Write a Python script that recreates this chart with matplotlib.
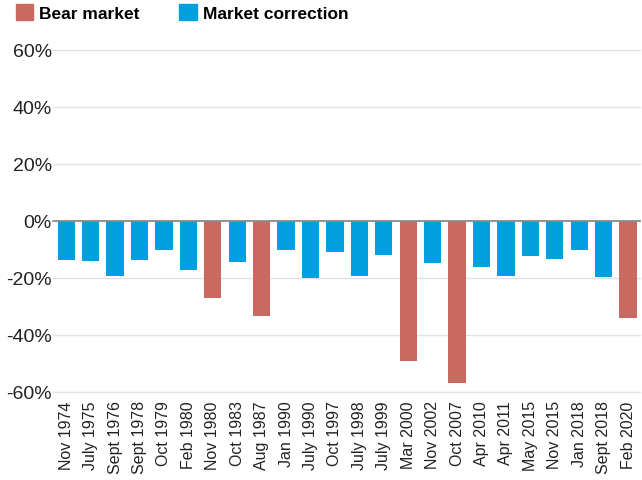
import numpy as np
import matplotlib.pyplot as plt
from matplotlib.patches import Patch

# data
dates = ["Nov 1974", "July 1975", "Sept 1976", "Sept 1978", "Oct 1979", "Feb 1980",
         "Nov 1980", "Oct 1983", "Aug 1987", "Jan 1990", "July 1990", "Oct 1997",
         "July 1998", "July 1999", "Mar 2000", "Nov 2002", "Oct 2007", "Apr 2010",
         "Apr 2011", "May 2015", "Nov 2015", "Jan 2018", "Sept 2018", "Feb 2020"]
declines = [-13.6, -14.1, -19.4, -13.6, -10.2, -17.1,
            -27.1, -14.4, -33.5, -10.2, -19.9, -10.8,
            -19.3, -12.1, -49.1, -14.7, -56.8, -16.0,
            -19.4, -12.4, -13.3, -10.2, -19.8, -33.9]
is_bear = [d <= -20 for d in declines]

bear_color = "#C86A60"
corr_color = "#009FDF"

plt.rcParams['font.family'] = ['Liberation Sans', 'DejaVu Sans']

fig = plt.figure(figsize=(6.42, 4.81), dpi=100)
ax = fig.add_axes([0.083, 0.183, 0.914, 0.711])

x = np.arange(len(dates))
colors = [bear_color if b else corr_color for b in is_bear]
ax.bar(x, declines, width=0.71, color=colors, zorder=3)

ax.set_ylim(-60, 60)
ax.set_xlim(-0.53, len(dates) - 0.51)
yticks = [60, 40, 20, 0, -20, -40, -60]
ax.set_yticks(yticks)
ax.set_yticklabels([f"{t}%" for t in yticks], fontsize=14, color="#222222")
for t in yticks:
    if t == 0:
        ax.axhline(t, color="#8a8a8a", lw=1.3, zorder=4, clip_on=False)
    else:
        ax.axhline(t, color="#e2e2e2", lw=1.0, zorder=1, clip_on=False)

ax.set_xticks(x)
ax.set_xticklabels(dates, rotation=90, fontsize=11.5, color="#222222")
ax.tick_params(axis='both', length=0)
ax.tick_params(axis='y', pad=1)
ax.tick_params(axis='x', pad=6)
for s in ax.spines.values():
    s.set_visible(False)

handles = [Patch(color=bear_color, label="Bear market"),
           Patch(color=corr_color, label="Market correction")]
fig.legend(handles=handles, loc="upper left", bbox_to_anchor=(0.0, 1.022), ncol=2,
           frameon=False, prop={'weight': 'bold', 'size': 12.5},
           handlelength=1.0, handleheight=1.0, handletextpad=0.35, columnspacing=2.3)

fig.savefig("out.png", dpi=100, facecolor="white")
